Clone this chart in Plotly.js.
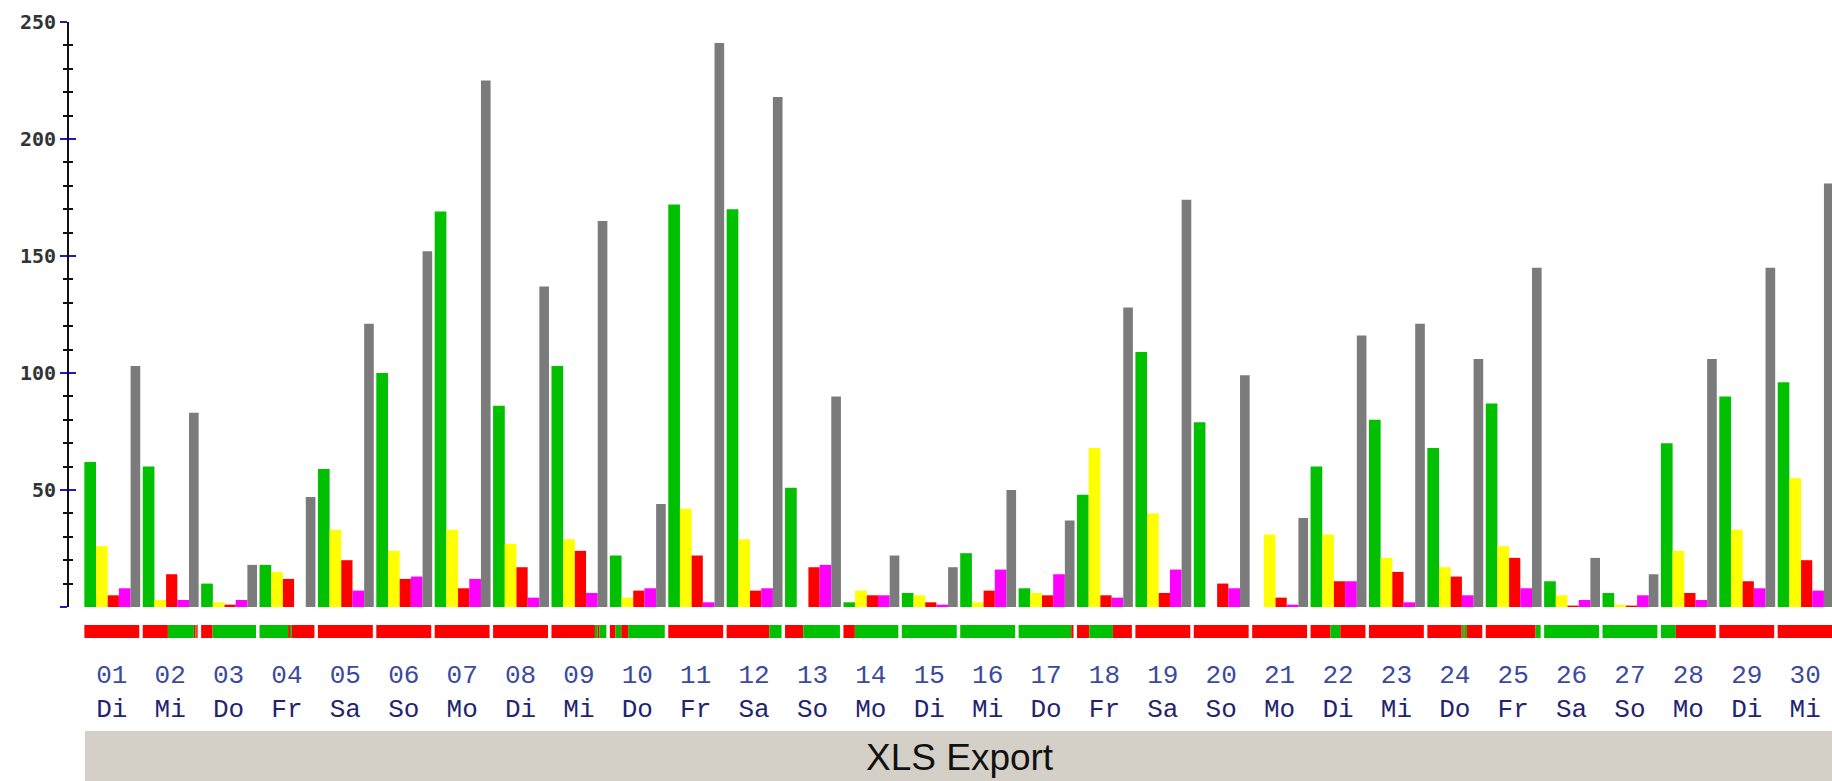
<!DOCTYPE html>
<html>
<head>
<meta charset="utf-8">
<script src="https://cdn.plot.ly/plotly-3.0.1.min.js"></script>
<style>
  html, body { margin: 0; padding: 0; background: #ffffff; overflow: hidden; }
  #chart { width: 1832px; height: 781px; }
</style>
</head>
<body>
<div id="chart"></div>
<script>
// ---- Data ----
const dayNumbers = ['01','02','03','04','05','06','07','08','09','10','11','12','13','14','15','16','17','18','19','20','21','22','23','24','25','26','27','28','29','30'];
const dayNames   = ['Di','Mi','Do','Fr','Sa','So','Mo','Di','Mi','Do','Fr','Sa','So','Mo','Di','Mi','Do','Fr','Sa','So','Mo','Di','Mi','Do','Fr','Sa','So','Mo','Di','Mi'];

const greenValues   = [62, 60, 10, 18, 59, 100, 169, 86, 103, 22, 172, 170, 51, 2, 6, 23, 8, 48, 109, 79, 0, 60, 80, 68, 87, 11, 6, 70, 90, 96];
const yellowValues  = [26, 3, 2, 15, 33, 24, 33, 27, 29, 4, 42, 29, 0, 7, 5, 2, 6, 68, 40, 0, 31, 31, 21, 17, 26, 5, 1, 24, 33, 55];
const redValues     = [5, 14, 1, 12, 20, 12, 8, 17, 24, 7, 22, 7, 17, 5, 2, 7, 5, 5, 6, 10, 4, 11, 15, 13, 21, 0.6, 0.6, 6, 11, 20];
const magentaValues = [8, 3, 3, 0, 7, 13, 12, 4, 6, 8, 2, 8, 18, 5, 1, 16, 14, 4, 16, 8, 1, 11, 2, 5, 8, 3, 5, 3, 8, 7];
const grayValues    = [103, 83, 18, 47, 121, 152, 225, 137, 165, 44, 241, 218, 90, 22, 17, 50, 37, 128, 174, 99, 38, 116, 121, 106, 145, 21, 14, 106, 145, 181];

// per-day status timeline (hours of each state, r = red, g = green)
const statusTimeline = [
  [['r',24]],
  [['r',11],['g',11.3],['r',0.7],['g',0.4],['r',0.6]],
  [['r',5],['g',19]],
  [['g',12.5],['r',0.8],['g',0.8],['r',9.9]],
  [['r',24]],
  [['r',24]],
  [['r',24]],
  [['r',24]],
  [['r',19],['g',1.2],['r',0.8],['g',3]],
  [['r',2.5],['g',2.5],['r',3],['g',16]],
  [['r',24]],
  [['r',18.7],['g',5.3]],
  [['r',8],['g',16]],
  [['r',5],['g',19]],
  [['g',24]],
  [['g',24]],
  [['g',23],['r',1]],
  [['r',5.4],['g',10.3],['r',8.3]],
  [['r',24]],
  [['r',24]],
  [['r',24]],
  [['r',8.7],['g',4.3],['r',11]],
  [['r',24]],
  [['r',15],['g',0.8],['r',0.5],['g',1],['r',6.7]],
  [['r',21.8],['g',2.2]],
  [['g',24]],
  [['g',24]],
  [['g',6.5],['r',17.5]],
  [['r',24]],
  [['r',24]]
];

const yTickValues = [0, 50, 100, 150, 200, 250];
const yTickLabels = ['', '50', '100', '150', '200', '250'];

// ---- Styles ----
const colGreen = '#00c000', colYellow = '#ffff00', colRed = '#ff0000', colMagenta = '#ff00ff', colGray = '#7b7b7b';
const stateColors = { r: colRed, g: colGreen };

const xPos = dayNumbers.map((d, i) => i + 1);

// bar slot inside each day (offset from day centre, width) – gray bars are a bit narrower
function barTrace(vals, color, name, offset, width) {
  return { type: 'bar', x: xPos, y: vals, name: name, offset: offset, width: width,
           marker: { color: color, line: { width: 0 } },
           xaxis: 'x', yaxis: 'y', hoverinfo: 'x+y', showlegend: false };
}

const traces = [
  barTrace(greenValues,   colGreen,   'Grün',    -0.470, 0.200),
  barTrace(yellowValues,  colYellow,  'Gelb',    -0.270, 0.200),
  barTrace(redValues,     colRed,     'Rot',     -0.070, 0.192),
  barTrace(magentaValues, colMagenta, 'Magenta',  0.122, 0.200),
  barTrace(grayValues,    colGray,    'Grau',     0.322, 0.165)
];

// status strip as horizontal bars built from the timeline
const dayFill = 0.94;
const sBase = [], sLen = [], sCol = [], sY = [];
statusTimeline.forEach((segs, i) => {
  let t = 0;
  segs.forEach(([st, h]) => {
    sBase.push((i + 1) - dayFill / 2 + t / 24 * dayFill);
    sLen.push(h / 24 * dayFill);
    sCol.push(stateColors[st]);
    sY.push(0);
    t += h;
  });
});
traces.push({
  type: 'bar', orientation: 'h', x: sLen, base: sBase, y: sY, width: 1,
  marker: { color: sCol, line: { width: 0 } }, xaxis: 'x', yaxis: 'y2',
  hoverinfo: 'skip', showlegend: false
});
// dummy trace for the overlay axis that draws the inner tick halves
traces.push({ type: 'scatter', x: [null], y: [null], xaxis: 'x', yaxis: 'y3', showlegend: false, hoverinfo: 'skip' });

const tickText = dayNumbers.map((d, i) =>
  '<span style="color:#3b4a9e">' + d + '</span><br><span style="color:#1f2470">' + dayNames[i] + '</span>');

const H = 781;
const layout = {
  width: 1832, height: H,
  margin: { l: 69, r: 0, t: 0, b: 0, pad: 0 },
  paper_bgcolor: '#ffffff', plot_bgcolor: '#ffffff',
  barmode: 'group', bargap: 0.06, bargroupgap: 0,
  showlegend: false,
  xaxis: {
    domain: [0, 1], range: [0.267, 30.46], anchor: 'free', position: 1 - 656 / H,
    showline: false, showgrid: false, zeroline: false, ticks: '',
    tickmode: 'array', tickvals: xPos, ticktext: tickText,
    tickfont: { family: 'Liberation Mono, Courier New, monospace', size: 26, color: '#3b4a9e' },
    fixedrange: true
  },
  yaxis: {
    domain: [1 - 607 / H, 1 - 22 / H], range: [0, 250], anchor: 'x',
    showline: true, linecolor: '#111111', linewidth: 2,
    showgrid: false, zeroline: false,
    ticks: 'outside', ticklen: 7, tickwidth: 2, tickcolor: '#1a1acc',
    tickmode: 'array', tickvals: yTickValues, ticktext: yTickLabels,
    tickfont: { family: 'DejaVu Sans Mono, monospace', size: 20, color: '#333333', weight: 'bold' },
    minor: { dtick: 10, tick0: 0, ticks: 'outside', ticklen: 4, tickwidth: 2, tickcolor: '#111111', showgrid: false },
    fixedrange: true
  },
  yaxis3: {
    overlaying: 'y', anchor: 'x', range: [0, 250],
    showline: false, showgrid: false, zeroline: false, showticklabels: false,
    ticks: 'inside', ticklen: 7, tickwidth: 2, tickcolor: '#1a1acc',
    tickmode: 'array', tickvals: yTickValues,
    minor: { dtick: 10, tick0: 0, ticks: 'inside', ticklen: 4, tickwidth: 2, tickcolor: '#111111', showgrid: false },
    fixedrange: true
  },
  yaxis2: {
    domain: [1 - 638 / H, 1 - 625 / H], range: [-0.5, 0.5], anchor: 'x',
    visible: false, fixedrange: true
  },
  shapes: [
    { type: 'rect', xref: 'paper', yref: 'paper', x0: (85 - 69) / 1763, x1: 1.02, y0: -0.01, y1: 1 - 731 / H,
      fillcolor: '#d4d0c8', line: { width: 0 }, layer: 'below' }
  ],
  annotations: [
    { xref: 'paper', yref: 'paper', x: (960 - 69) / 1763, y: 1 - 757 / H, xanchor: 'center', yanchor: 'middle',
      text: 'XLS Export', showarrow: false,
      font: { family: 'Liberation Sans, Arial, sans-serif', size: 37, color: '#111111' } }
  ]
};

Plotly.newPlot('chart', traces, layout, { displayModeBar: false, staticPlot: true });
</script>
</body>
</html>
